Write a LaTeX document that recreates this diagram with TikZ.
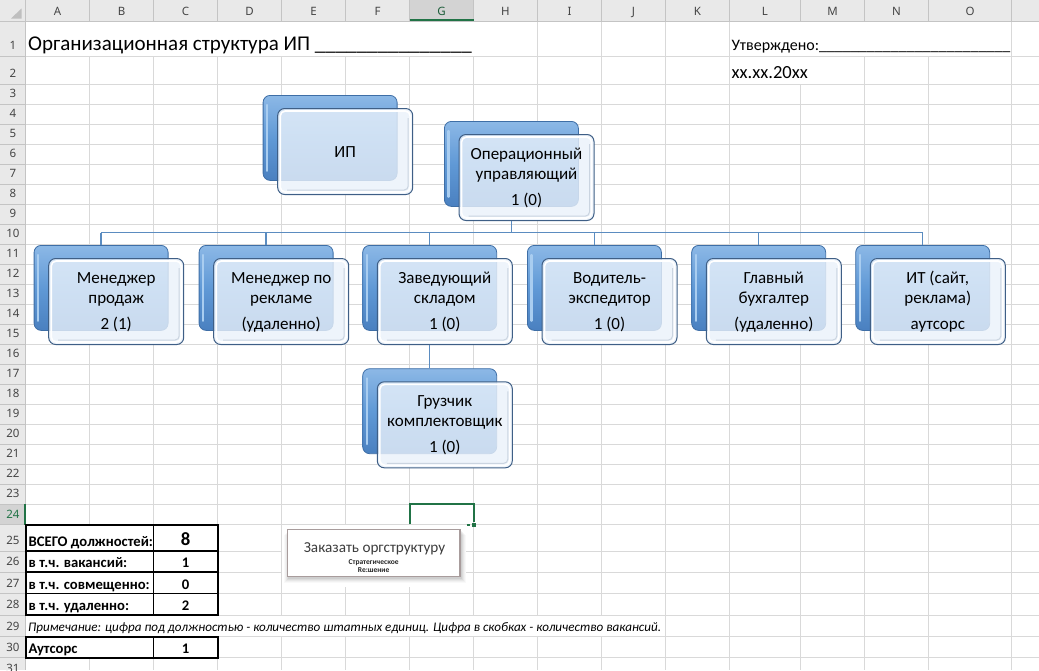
\documentclass[tikz,border=0pt]{standalone}
\usepackage{fontspec}
\setmainfont{Carlito}
\newfontfamily\hdrfont{Noto Sans}
\usetikzlibrary{calc}
\definecolor{gridc}{HTML}{D9D9D9}
\definecolor{hdrbg}{HTML}{E9E9E9}
\definecolor{hdrsel}{HTML}{D3D3D3}
\definecolor{hdrline}{HTML}{C4C4C4}
\definecolor{hdrtxt}{HTML}{444444}
\definecolor{xlgreen}{HTML}{217346}
\definecolor{bluetop}{HTML}{8CB8E6}
\definecolor{bluemid}{HTML}{6099D6}
\definecolor{bluebot}{HTML}{4A80C0}
\definecolor{blueedge}{HTML}{3E6EA6}
\definecolor{bluehl}{HTML}{A9CDF0}
\definecolor{frontfill}{HTML}{EAF2FB}
\definecolor{frontedge}{HTML}{3F5F86}
\definecolor{frontsh}{HTML}{CAD4E0}
\definecolor{connc}{HTML}{5B8CC0}
\definecolor{btnedge}{HTML}{A89C9C}
\definecolor{btntxt}{HTML}{3C3C3C}
\tikzset{
  gridl/.style={draw=gridc, line width=0.8pt},
  hdrsep/.style={draw=hdrline, line width=0.7pt},
  hdr/.style={font=\hdrfont\fontsize{11.5}{13}\selectfont, text=hdrtxt, inner sep=0pt},
  rowlab/.style={hdr, anchor=base},
  backbox/.style={rectangle, rounded corners=7pt, minimum width=134pt, minimum height=85pt, inner sep=0pt,
    top color=bluetop, bottom color=bluebot, middle color=bluemid, draw=blueedge, line width=0.8pt},
  backhl/.style={draw=bluehl, line width=2.2pt, line cap=round},
  frontunder/.style={fill=white, rounded corners=7pt},
  frontbox/.style={rectangle, rounded corners=7pt, minimum width=135pt, minimum height=86pt, inner sep=0pt,
    fill=frontfill, fill opacity=0.8, draw=frontedge, line width=1pt},
  fronthl/.style={draw=white, line width=1.6pt, rounded corners=5pt},
  frontshade/.style={draw=frontsh, line width=1pt, rounded corners=4pt},
  otext/.style={font=\fontsize{17}{20}\selectfont, anchor=base, inner sep=0pt, text=black},
  conn/.style={draw=connc, line width=1.4pt},
  celltxt/.style={font=\fontsize{14.67}{17}\selectfont\bfseries, anchor=base west, inner sep=0pt},
  cellval/.style={font=\fontsize{14.67}{17}\selectfont\bfseries, anchor=base, inner sep=0pt},
  tblouter/.style={draw=black, line width=2pt},
  tblinner/.style={draw=black, line width=1.5pt},
  selbox/.style={draw=xlgreen, line width=2pt},
}
% #1 name, #2 x0, #3 y0 (back box top-left)
\newcommand\orgbox[3]{%
  \fill[frontunder] (#2+14.5,#3+13) rectangle ++(135,86);
  \node[backbox, anchor=north west] (#1B) at (#2,#3) {};
  \draw[backhl] ($(#1B.north west)+(4.5,10)$) -- ($(#1B.south west)+(4.5,-10)$);
  \node[frontbox, anchor=north west] (#1F) at (#2+14.5,#3+13) {};
  \draw[fronthl] ($(#1F.north west)+(3,3)$) rectangle ($(#1F.south east)+(-3,-3)$);
  \draw[frontshade] ($(#1F.north east)+(-5,10)$) -- ($(#1F.south east)+(-5,-5)$) -- ($(#1F.south west)+(10,-5)$);
}
% #1 name, #2 l1, #3 l2, #4 l3
\newcommand\orgtext[4]{%
  \node[otext] (#1T1) at ($(#1F.north)+(0,25.5)$) {#2};
  \node[otext] (#1T2) at ($(#1F.north)+(0,45)$) {#3};
  \node[otext] (#1T3) at ($(#1F.north)+(0,71.5)$) {#4};
}
\begin{document}
\begin{tikzpicture}[x=1pt,y=-1pt]
\useasboundingbox (0,0) rectangle (1039,670);
\fill[white] (0,0) rectangle (1039,670);
% ---------- grid ----------
\foreach \x in {25.5,89.5,153.5,217.5,281.5,345.5,409.5,473.5,537.5,601.5,665.5,729.5,800.5,864.5,928.5,1011.5}
  \draw[gridl] (\x,21) -- (\x,670);
\foreach \y in {56.3,84.3,104.3,124.3,144.3,164.3,184.3,204.3,224.3,244.3,264.3,284.3,304.3,324.3,344.3,364.3,384.3,404.3,424.3,444.3,464.3,484.3,504.3,524.5,551,572,593.5,615,636.5,657.5}
  \draw[gridl] (25.5,\y) -- (1039,\y);
% overflow-text areas hide gridlines
\fill[white] (26,21.5) rectangle (537,55.9);
\fill[white] (730,21.5) rectangle (1011,55.9);
\fill[white] (730,56.7) rectangle (864,83.9);
\fill[white] (26,615.5) rectangle (665,636);
% ---------- headers ----------
\fill[hdrbg] (0,0) rectangle (1039,21);
\fill[hdrbg] (0,0) rectangle (25.5,670);
\fill[hdrsel] (409.5,0) rectangle (473.5,21);
\fill[hdrsel] (0,504.3) rectangle (25.5,524.5);
\foreach \x in {25.5,89.5,153.5,217.5,281.5,345.5,409.5,473.5,537.5,601.5,665.5,729.5,800.5,864.5,928.5,1011.5}
  \draw[hdrsep] (\x,0) -- (\x,21);
\foreach \y in {56.3,84.3,104.3,124.3,144.3,164.3,184.3,204.3,224.3,244.3,264.3,284.3,304.3,324.3,344.3,364.3,384.3,404.3,424.3,444.3,464.3,484.3,504.3,524.5,551,572,593.5,615,636.5,657.5}
  \draw[hdrsep] (0,\y) -- (25.5,\y);
\draw[draw=hdrline, line width=0.8pt] (0,21) -- (1039,21);
\draw[draw=hdrline, line width=0.8pt] (25.5,0) -- (25.5,670);
\draw[selbox] (409.5,20.2) -- (473.5,20.2);
\draw[selbox] (24.6,504.3) -- (24.6,524.5);
\fill[black!25] (21.5,8.5) -- (21.5,18.5) -- (11,18.5) -- cycle;
\foreach \c/\x in {A/57.5,B/121.5,C/185.5,D/249.5,E/313.5,F/377.5,H/505.5,I/569.5,J/633.5,K/697.5,L/765,M/832.5,N/896.5,O/970}
  \node[hdr, anchor=base] (col\c) at (\x,15.5) {\c};
\node[hdr, anchor=base, text=xlgreen!80!black] (colG) at (441.5,15.5) {G};
\foreach \r/\b in {1/56.3,2/84.3,3/104.3,4/124.3,5/144.3,6/164.3,7/184.3,8/204.3,9/224.3,10/244.3,11/264.3,12/284.3,13/304.3,14/324.3,15/344.3,16/364.3,17/384.3,18/404.3,19/424.3,20/444.3,21/464.3,22/484.3,23/504.3,25/551,26/572,27/593.5,28/615,29/636.5,30/657.5,31/678.5}
  \node[rowlab] (row\r) at (13,\b-6.5) {\r};
\node[rowlab, text=xlgreen] (row24) at (13,518) {24};
% ---------- title texts ----------
\node[anchor=base west, inner sep=0pt, font=\fontsize{21}{25}\selectfont] (title) at (28,50)
  {Организационная структура ИП \_\_\_\_\_\_\_\_\_\_\_\_\_\_\_};
\node[anchor=base west, inner sep=0pt, font=\fontsize{16}{19}\selectfont] (appr) at (731.5,50)
  {Утверждено:\_\_\_\_\_\_\_\_\_\_\_\_\_\_\_\_\_\_\_\_\_\_\_\_};
\node[anchor=base west, inner sep=0pt, font=\fontsize{18.5}{22}\selectfont] (date) at (731.5,78.3) {xx.xx.20xx};
% ---------- org chart ----------
\orgbox{ip}{262.7}{95}
\node[otext] (ipT) at ($(ipF.center)+(0,5.5)$) {ИП};
\orgbox{op}{444}{121}
\orgtext{op}{Операционный}{управляющий}{1 (0)}
\orgbox{mp}{33.7}{245}
\orgtext{mp}{Менеджер}{продаж}{2 (1)}
\orgbox{mr}{198.7}{245}
\orgtext{mr}{Менеджер по}{рекламе}{(удаленно)}
\orgbox{zs}{362.3}{245}
\orgtext{zs}{Заведующий}{складом}{1 (0)}
\orgbox{vd}{527}{245}
\orgtext{vd}{Водитель-}{экспедитор}{1 (0)}
\orgbox{gb}{691.3}{245}
\orgtext{gb}{Главный}{бухгалтер}{(удаленно)}
\orgbox{it}{855.3}{245}
\orgtext{it}{ИТ (сайт,}{реклама)}{аутсорс}
\orgbox{gk}{362.3}{368.3}
\orgtext{gk}{Грузчик}{комплектовщик}{1 (0)}
% connectors
\coordinate (bus) at (0,232.5);
\draw[conn] (opB.center |- opF.south) -- (opB.center |- bus);
\draw[conn] (mpB.center |- bus) -- (itB.center |- bus);
\draw[conn] (mpB.center |- bus) -- (mpB.north);
\draw[conn] (mrB.center |- bus) -- (mrB.north);
\draw[conn] (zsB.center |- bus) -- (zsB.north);
\draw[conn] (vdB.center |- bus) -- (vdB.north);
\draw[conn] (gbB.center |- bus) -- (gbB.north);
\draw[conn] (itB.center |- bus) -- (itB.north);
\draw[conn] (zsB.center |- zsF.south) -- (gkB.north);
% ---------- selected cell ----------
\draw[selbox] (409.5,524.3) -- (409.5,503.5) -- (473.7,503.5) -- (473.7,521.5);
\draw[selbox] (466.5,525.2) -- (469.8,525.2);
\fill[xlgreen] (471.7,523.2) rectangle (475.9,527.4);
% ---------- button ----------
\fill[white] (281.5,525.3) rectangle (466,587);
\foreach \i/\o in {5/0.025,4/0.03,3/0.04,2/0.05,1/0.06}
  \fill[black, opacity=\o] (287.3-\i+1.5,529.3+\i+0.5) rectangle (460+\i+0.5,576.7+\i+1.5);
\node[rectangle, draw=btnedge, fill=white, line width=1.1pt, minimum width=172.7pt, minimum height=47.4pt, inner sep=0pt]
  (btn) at (373.65,553) {};
\node[anchor=base, inner sep=0pt, text=btntxt, font=\fontsize{15.2}{18}\selectfont] (btnT) at (374.5,552.5) {Заказать оргструктуру};
\node[anchor=base, inner sep=0pt, font=\fontsize{7.5}{8}\selectfont\bfseries, text=black!85] (btnS1) at (373.65,564.8) {Стратегическое};
\node[anchor=base, inner sep=0pt, font=\fontsize{7.5}{8}\selectfont\bfseries, text=black!85] (btnS2) at (373.65,572.6) {Re:шение};
% ---------- summary table ----------
\fill[white] (25.5,525) rectangle (217.5,615);
\fill[white] (25.5,636.5) rectangle (217.5,657.5);
\draw[tblinner] (25.5,551) -- (217.5,551);
\draw[tblinner] (25.5,572) -- (217.5,572);
\draw[tblinner] (25.5,593.5) -- (217.5,593.5);
\draw[tblinner] (153.5,525) -- (153.5,615);
\draw[tblouter] (25.5,525) rectangle (217.5,615);
\draw[tblinner] (153.5,636.5) -- (153.5,657.5);
\draw[tblouter] (25.5,636.5) rectangle (217.5,657.5);
\node[celltxt] (t25) at (28.5,546.7) {ВСЕГО должностей:};
\node[celltxt] (t26) at (28.5,567.7) {в т.ч. вакансий:};
\node[celltxt] (t27) at (28.5,589.2) {в т.ч. совмещенно:};
\node[celltxt] (t28) at (28.5,610.7) {в т.ч. удаленно:};
\node[celltxt] (t30) at (28.5,653.2) {Аутсорс};
\node[cellval, font=\fontsize{18.67}{21}\selectfont\bfseries] (v25) at (185.5,545) {8};
\node[cellval] (v26) at (185.5,567.7) {1};
\node[cellval] (v27) at (185.5,589.2) {0};
\node[cellval] (v28) at (185.5,610.7) {2};
\node[cellval] (v30) at (185.5,653.2) {1};
\node[anchor=base west, inner sep=0pt, font=\fontsize{13.1}{15}\selectfont\itshape] (note) at (28,631.5)
  {Примечание: цифра под должностью - количество штатных единиц. Цифра в скобках - количество вакансий.};
\end{tikzpicture}
\end{document}
